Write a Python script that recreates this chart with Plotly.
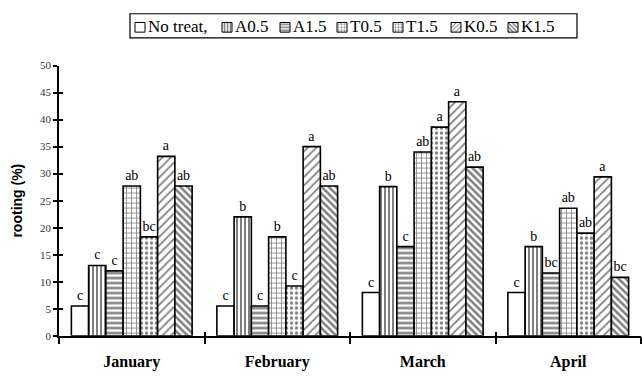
import plotly.graph_objects as go

months = ["January", "February", "March", "April"]

treatments = ["No treat,", "A0.5", "A1.5", "T0.5", "T1.5", "K0.5", "K1.5"]

# rooting percentage per treatment, one value per month
no_treat = [5.5, 5.5, 8.0, 8.0]
a05 = [13.0, 22.0, 27.6, 16.5]
a15 = [12.0, 5.5, 16.5, 11.6]
t05 = [27.7, 18.3, 34.0, 23.6]
t15 = [18.3, 9.2, 38.6, 19.0]
k05 = [33.2, 35.0, 43.3, 29.4]
k15 = [27.7, 27.7, 31.2, 10.8]

# significance letters above each bar
letters_no_treat = ["c", "c", "c", "c"]
letters_a05 = ["c", "b", "b", "b"]
letters_a15 = ["c", "c", "c", "bc"]
letters_t05 = ["ab", "b", "ab", "ab"]
letters_t15 = ["bc", "c", "a", "ab"]
letters_k05 = ["a", "a", "a", "a"]
letters_k15 = ["ab", "ab", "ab", "bc"]

y_ticks = [0, 5, 10, 15, 20, 25, 30, 35, 40, 45, 50]

values = [no_treat, a05, a15, t05, t15, k05, k15]
letters = [letters_no_treat, letters_a05, letters_a15, letters_t05,
           letters_t15, letters_k05, letters_k15]

# fill pattern per treatment: shape, solidity, size
patterns = [
    ("", 0.3, 8),
    ("|", 0.5, 4),
    ("-", 0.5, 5),
    ("+", 0.3, 5),
    (".", 0.35, 5),
    ("/", 0.3, 6),
    ("\\", 0.5, 5),
]

W, H = 642, 380
serif = "Liberation Serif, Times New Roman, serif"

# pixel frame of the plotting area and the legend box
plot_left, plot_right, plot_top, plot_bottom = 59, 641, 61.5, 340.5
leg_left, leg_right, leg_top, leg_bottom = 130, 577, 8, 33
# legend symbol centres measured from the legend's left edge
leg_sym_x = [10, 97, 155, 212, 268, 326, 383]
sym_size = 10


def px_x(p):
    return p / W


def px_y(p):
    return 1 - p / H


fig = go.Figure()
for name, vals, labels, (shape, solidity, size) in zip(treatments, values,
                                                       letters, patterns):
    pattern = dict(shape=shape, fgcolor="black", bgcolor="white",
                   fillmode="overlay", solidity=solidity, size=size)
    fig.add_trace(go.Bar(
        x=months, y=vals, name=name, showlegend=False,
        text=labels, textposition="outside", cliponaxis=False,
        textfont=dict(family=serif, size=14, color="black"),
        outsidetextfont=dict(family=serif, size=14, color="black"),
        marker=dict(color="white", pattern=pattern,
                    line=dict(color="black", width=1.6)),
    ))

# overlay axes carry the inner half of the crossing tick marks
fig.add_trace(go.Scatter(x=months, y=[None] * 4, xaxis="x2", yaxis="y2",
                         showlegend=False, hoverinfo="skip"))

# legend swatches, drawn as small patterned bars on their own axes
fig.add_trace(go.Bar(
    x=leg_sym_x, y=[sym_size] * len(treatments), base=[6] * len(treatments),
    width=[sym_size] * len(treatments), xaxis="x3", yaxis="y3",
    showlegend=False, hoverinfo="skip",
    marker=dict(
        color="white",
        line=dict(color="black", width=1),
        pattern=dict(
            shape=[p[0] for p in patterns],
            solidity=[p[1] for p in patterns],
            size=[3] * len(patterns),
            fgcolor="black", bgcolor="white", fillmode="overlay",
        ),
    ),
))

annotations = []
for name, cx in zip(treatments, leg_sym_x):
    annotations.append(dict(
        x=cx + sym_size / 2 + 1, y=11.5, xref="x3", yref="y3",
        text=name, showarrow=False, xanchor="left", yanchor="middle",
        font=dict(family=serif, size=17, color="black"),
    ))

fig.update_layout(
    width=W, height=H,
    margin=dict(l=0, r=0, t=0, b=0),
    paper_bgcolor="white", plot_bgcolor="white",
    barmode="group", bargap=0.17, bargroupgap=0,
    uniformtext=dict(minsize=14, mode="show"),
    font=dict(family=serif, color="black"),
    annotations=annotations,
    shapes=[dict(
        type="rect", xref="paper", yref="paper",
        x0=px_x(leg_left), x1=px_x(leg_right),
        y0=px_y(leg_bottom), y1=px_y(leg_top),
        line=dict(color="black", width=1.2), fillcolor="rgba(0,0,0,0)",
        layer="below",
    )],
    xaxis=dict(
        domain=[px_x(plot_left), px_x(plot_right)],
        type="category", range=[-0.5, 3.5],
        showline=True, linecolor="black", linewidth=1.5,
        ticks="outside", tickson="boundaries", ticklen=7, tickwidth=1.5,
        tickcolor="black", showgrid=False, ticklabelstandoff=10,
        tickfont=dict(family=serif, size=16, color="black", weight="bold"),
    ),
    yaxis=dict(
        domain=[px_y(plot_bottom), px_y(plot_top)],
        range=[0, 50], tickvals=y_ticks,
        showline=True, linecolor="black", linewidth=1.5,
        ticks="outside", ticklen=4, tickwidth=1.5, tickcolor="black",
        showgrid=False, zeroline=False,
        tickfont=dict(family=serif, size=11, color="#333"),
        title=dict(text="rooting (%)", standoff=14,
                   font=dict(family="Liberation Sans, Arial, sans-serif",
                             size=14, color="black", weight="bold")),
    ),
    xaxis2=dict(
        domain=[px_x(plot_left), px_x(plot_right)],
        type="category", range=[-0.5, 3.5], overlaying="x",
        categoryarray=months, categoryorder="array",
        ticks="inside", tickson="boundaries", ticklen=4, tickwidth=1.5,
        tickcolor="black", showticklabels=False, showgrid=False,
        showline=False,
    ),
    yaxis2=dict(
        domain=[px_y(plot_bottom), px_y(plot_top)],
        range=[0, 50], tickvals=y_ticks, overlaying="y",
        ticks="inside", ticklen=4, tickwidth=1.5, tickcolor="black",
        showticklabels=False, showgrid=False, zeroline=False, showline=False,
    ),
    xaxis3=dict(
        domain=[px_x(leg_left), px_x(leg_right)],
        range=[0, leg_right - leg_left], visible=False, fixedrange=True,
    ),
    yaxis3=dict(
        domain=[px_y(leg_bottom), px_y(leg_top)],
        range=[0, leg_bottom - leg_top], visible=False, fixedrange=True,
    ),
    showlegend=False,
)

fig.write_html("out.html")
